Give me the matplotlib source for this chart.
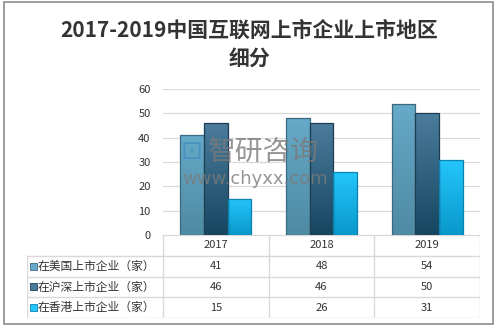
import numpy as np
import matplotlib
matplotlib.use("Agg")
import matplotlib.pyplot as plt
from matplotlib.patches import Rectangle

plt.rcParams['font.family'] = ['Noto Sans CJK SC', 'DejaVu Sans']

# data
years = ["2017", "2018", "2019"]
series_names = ["在美国上市企业（家）", "在沪深上市企业（家）", "在香港上市企业（家）"]
us_listed = [41, 48, 54]
shsz_listed = [46, 46, 50]
hk_listed = [15, 26, 31]
yticks = [0, 10, 20, 30, 40, 50, 60]

series = [us_listed, shsz_listed, hk_listed]
# (top colour, bottom colour, edge colour)
styles = [("#66a9c8", "#4f8aa3", "#3a6a80"),
          ("#4b7c9c", "#164660", "#1d3e52"),
          ("#24c6fb", "#0a98cb", "#0b82b0")]

W, H = 499, 328
fig = plt.figure(figsize=(W / 100, H / 100), dpi=100)

def px(x0, y0, x1, y1):
    # pixel box (top-left origin) -> figure fraction rect
    return [x0 / W, 1 - y1 / H, (x1 - x0) / W, (y1 - y0) / H]

# outer frame
fig.patches.append(Rectangle((4 / W, 1 - 324 / H), 489 / W, 322 / H,
                             transform=fig.transFigure, fill=False,
                             edgecolor="#8c8c8c", lw=1.2))

fig.text(0.5, 1 - 30 / H, "2017-2019中国互联网上市企业上市地区", ha="center",
         va="center", fontsize=15, fontweight="bold", color="#333333")
fig.text(0.5, 1 - 58 / H, "细分", ha="center", va="center",
         fontsize=15, fontweight="bold", color="#333333")

# chart axes
ax = fig.add_axes(px(163, 89, 480, 235))
ax.set_xlim(0, 3)
ax.set_ylim(0, 60)
ax.set_yticks(yticks)
ax.set_xticks([])
ax.tick_params(axis="y", length=0, labelsize=8, labelcolor="#333333", pad=9)
for s in ax.spines.values():
    s.set_visible(False)
ax.grid(axis="y", color="#d9d9d9", lw=0.9)
ax.set_axisbelow(True)

x = np.arange(len(years)) + 0.5
bw = 0.225
for i, (vals, (ctop, cbot, cedge)) in enumerate(zip(series, styles)):
    bars = ax.bar(x + (i - 1) * bw, vals, bw, color="none",
                  edgecolor=cedge, lw=0.9, zorder=3)
    cmap = matplotlib.colors.LinearSegmentedColormap.from_list("g", [cbot, ctop])
    grad = np.linspace(0, 1, 100).reshape(-1, 1)
    for b in bars:
        bx, by = b.get_x(), b.get_y()
        im = ax.imshow(grad, cmap=cmap, origin="lower", aspect="auto",
                       extent=(bx, bx + b.get_width(), by, by + b.get_height()),
                       zorder=2)
        im.set_clip_path(b)
ax.set_xlim(0, 3)
ax.set_ylim(0, 60)

# watermark
fig.text(208 / W, 1 - 152 / H, "智研咨询", fontsize=20, color="#7a7a7a",
         alpha=0.8, va="center", ha="left")
fig.text(182 / W, 1 - 179 / H, "www.chyxx.com", fontsize=13,
         color="#7a7a7a", alpha=0.8, va="center", ha="left",
         family=["DejaVu Sans"])
fig.text(181 / W, 1 - 152 / H, "⊡", fontsize=19, color="#3e8ec0",
         alpha=0.7, va="center", ha="left", family=["DejaVu Sans"])

# data table
tx = fig.add_axes(px(27, 235, 480, 318))
lab_w = 136 / (317 / 3)
tx.set_xlim(-lab_w, 3)
tx.set_ylim(0, 4)
tx.axis("off")
lc = "#d9d9d9"
tx.plot([0, 3], [4, 4], color=lc, lw=1)
for c in range(4):
    tx.plot([c, c], [0, 4], color=lc, lw=1)
for r in range(4):
    tx.plot([-lab_w, 3], [r, r], color=lc, lw=1)
tx.plot([-lab_w, -lab_w], [0, 3], color=lc, lw=1)
for c, yr in enumerate(years):
    tx.text(c + 0.5, 3.5, yr, ha="center", va="center", fontsize=8,
            color="#333333")
for r, (name, vals, st) in enumerate(zip(series_names, series, styles)):
    yc = 2.5 - r
    tx.add_patch(Rectangle((-lab_w + 0.03, yc - 0.17), 0.06, 0.34,
                           facecolor=st[0], edgecolor=st[2], lw=0.6))
    tx.text(-lab_w + 0.1, yc, name, ha="left", va="center", fontsize=8.5,
            color="#333333")
    for c, v in enumerate(vals):
        tx.text(c + 0.5, yc, str(v), ha="center", va="center", fontsize=8,
                color="#333333")

fig.savefig("out.png", dpi=100)
